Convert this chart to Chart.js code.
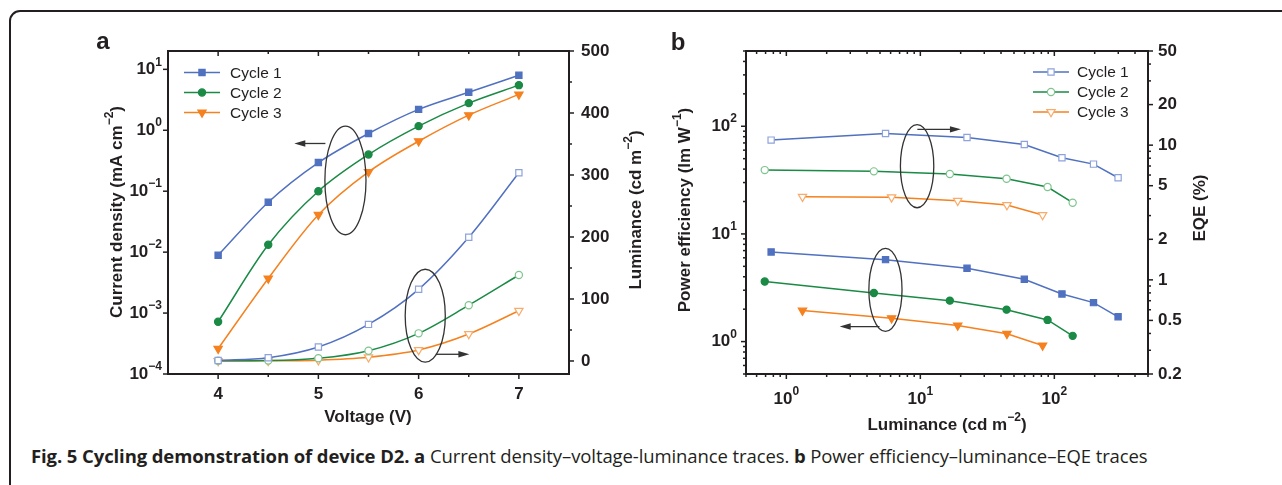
<!DOCTYPE html>
<html>
<head>
<meta charset="utf-8">
<script src="https://cdn.jsdelivr.net/npm/chart.js@4.4.1/dist/chart.umd.min.js"></script>
<style>
  body { margin: 0; background: #fff; width: 1282px; height: 485px; overflow: hidden; position: relative; }
  #frame { position: absolute; left: 9px; top: 10px; right: -30px; bottom: -30px; border: 2px solid #231f20; border-radius: 11px; }
  #ca { position: absolute; left: 0; top: 0; }
  #cb { position: absolute; left: 660px; top: 0; }
  #caption { position: absolute; left: 31px; top: 443px; font-family: "Open Sans", sans-serif; font-size: 18.5px; color: #231f20; white-space: nowrap; letter-spacing: -0.1px; }
  #caption b { font-weight: 700; }
</style>
</head>
<body>
<div id="frame"></div>
<canvas id="ca" width="660" height="440" style="width:660px;height:440px"></canvas>
<canvas id="cb" width="622" height="440" style="width:622px;height:440px"></canvas>
<div id="caption"><b>Fig. 5 Cycling demonstration of device D2. a</b> Current density–voltage-luminance traces. <b>b</b> Power efficiency–luminance–EQE traces</div>
<script>
// ---- panel a: J-V-L ----
const voltage = [4, 4.5, 5, 5.5, 6, 6.5, 7];
const jCycle1 = [0.0089, 0.066, 0.295, 0.885, 2.2, 4.2, 8.0];
const jCycle2 = [7.2e-4, 0.0132, 0.1, 0.40, 1.17, 2.79, 5.5];
const jCycle3 = [2.6e-4, 3.7e-3, 0.041, 0.207, 0.66, 1.77, 3.88];
const lumCycle1 = [0.8, 5.3, 22.6, 59, 115.6, 199.5, 303.7];
const lumCycle2 = [0.3, 0.7, 4.3, 16.6, 44.6, 90, 138.7];
const lumCycle3 = [0.1, 0.2, 1.3, 6, 17.7, 43.5, 81];

const voltTicks = [4, 5, 6, 7];
const voltMinor = [4.5, 5.5, 6.5];
const jTicks = [1e-4, 1e-3, 1e-2, 1e-1, 1, 10];
const jTickExp = ['−4', '−3', '−2', '−1', '0', '1'];
const lumTicksA = [0, 100, 200, 300, 400, 500];
const lumMinorA = [50, 150, 250, 350, 450];

// ---- panel b: PE-L-EQE ----
const pbLum1 = [0.77, 5.5, 22.3, 59.7, 114, 196, 299];
const pe1 = [6.8, 5.77, 4.8, 3.79, 2.77, 2.30, 1.70];
const eqe1 = [10.9, 12.2, 11.4, 10.1, 8.06, 7.23, 5.73];
const pbLum2 = [0.69, 4.5, 16.6, 44, 89, 137];
const pe2 = [3.61, 2.83, 2.40, 1.98, 1.59, 1.13];
const eqe2 = [6.53, 6.39, 6.1, 5.63, 4.89, 3.74];
const pbLum3 = [1.32, 6.1, 19, 44.3, 81.7];
const pe3 = [1.94, 1.65, 1.41, 1.18, 0.92];
const eqe3 = [4.14, 4.1, 3.87, 3.59, 3.03];

const decadeTicks = [1, 10, 100];
const decadeExp = ['0', '1', '2'];
const eqeTicks = [0.2, 0.5, 1, 2, 5, 10, 20, 50];
const eqeMinor = [0.3, 0.4, 0.6, 0.7, 0.8, 0.9, 3, 4, 6, 7, 8, 9, 30, 40];

const ink = '#231f20';
const blue = '#5070c0', green = '#1a8a45', orange = '#f5811f';
const blueL = '#8ea3dc', greenL = '#7fc48e', orangeL = '#f8ab6a';
const FONT = '"Liberation Sans", Arial, sans-serif';
const TICK = 17, TITLE = 17;

function logMinor(lo, hi) {
  const out = [];
  for (let d = lo; d < hi; d *= 10) for (let k = 2; k <= 9; k++) out.push(d * k);
  return out;
}

function xy(xs, ys) { return xs.map((x, i) => ({ x: x, y: ys[i] })); }

function series(label, data, axis, line, fill, edge, style, r, smooth) {
  return {
    label: label, data: data, yAxisID: axis,
    borderColor: line, borderWidth: 1.5,
    pointStyle: style, pointRotation: style === 'triangle' ? 180 : 0, pointRadius: r,
    pointBackgroundColor: fill, pointBorderColor: edge, pointBorderWidth: 1.2,
    cubicInterpolationMode: smooth ? 'monotone' : 'default', tension: 0
  };
}

function drawRich(ctx, parts, x, y, align, size, weight) {
  const sup = Math.round(size * 0.68);
  let w = 0;
  parts.forEach(p => { ctx.font = weight + ' ' + (p[1] ? sup : size) + 'px ' + FONT; w += ctx.measureText(p[0]).width; });
  let cx = align === 'center' ? x - w / 2 : align === 'right' ? x - w : x;
  ctx.textAlign = 'left';
  ctx.textBaseline = 'middle';
  parts.forEach(p => {
    ctx.font = weight + ' ' + (p[1] ? sup : size) + 'px ' + FONT;
    ctx.fillText(p[0], cx, p[1] ? y - size * 0.42 : y);
    cx += ctx.measureText(p[0]).width;
  });
}

function marker(ctx, style, r, fill, edge, x, y) {
  ctx.beginPath();
  if (style === 'rect') { const h = r * Math.SQRT1_2; ctx.rect(x - h, y - h, 2 * h, 2 * h); }
  else if (style === 'circle') ctx.arc(x, y, r, 0, Math.PI * 2);
  else { ctx.moveTo(x, y + r); ctx.lineTo(x - r * 0.866, y - r / 2); ctx.lineTo(x + r * 0.866, y - r / 2); ctx.closePath(); }
  ctx.fillStyle = fill; ctx.fill();
  ctx.strokeStyle = edge; ctx.lineWidth = 1.2; ctx.stroke();
}

function drawAxis(chart, ax) {
  const ctx = chart.ctx, a = chart.chartArea, s = chart.scales[ax.scale];
  const horiz = ax.side === 'bottom' || ax.side === 'top';
  const edge = a[ax.side];
  const out = (ax.side === 'left' || ax.side === 'top') ? -1 : 1;
  const sign = ax.dir === 'in' ? -out : out;
  ctx.strokeStyle = ink;
  ctx.lineWidth = 2;
  ctx.beginPath();
  if (horiz) { ctx.moveTo(a.left - 1, edge); ctx.lineTo(a.right + 1, edge); }
  else { ctx.moveTo(edge, a.top - 1); ctx.lineTo(edge, a.bottom + 1); }
  ctx.stroke();
  ctx.lineWidth = 1.5;
  const tick = (v, len) => {
    const p = s.getPixelForValue(v);
    ctx.beginPath();
    if (horiz) { ctx.moveTo(p, edge); ctx.lineTo(p, edge + sign * len); }
    else { ctx.moveTo(edge, p); ctx.lineTo(edge + sign * len, p); }
    ctx.stroke();
  };
  (ax.minor || []).forEach(v => tick(v, 3));
  (ax.major || []).forEach(v => tick(v, 5));
  ctx.fillStyle = ink;
  (ax.labels || []).forEach((parts, i) => {
    const p = s.getPixelForValue(ax.major[i]);
    if (ax.side === 'left') drawRich(ctx, parts, edge - ax.gap, p, 'right', TICK, 'bold');
    else if (ax.side === 'right') drawRich(ctx, parts, edge + ax.gap, p, 'left', TICK, 'bold');
    else drawRich(ctx, parts, p, edge + ax.gap, 'center', TICK, 'bold');
  });
}

function decor(cfg) {
  return {
    id: 'decor',
    afterDraw(chart) {
      const ctx = chart.ctx, sc = chart.scales;
      ctx.save();
      cfg.axes.forEach(ax => drawAxis(chart, ax));
      ctx.fillStyle = ink;
      cfg.titles.forEach(t => {
        ctx.save(); ctx.translate(t.x, t.y); ctx.rotate(t.rot || 0);
        drawRich(ctx, t.parts, 0, 0, 'center', TITLE, 'bold');
        ctx.restore();
      });
      ctx.font = 'bold 24px ' + FONT; ctx.textAlign = 'center'; ctx.textBaseline = 'middle';
      ctx.fillText(cfg.letter.t, cfg.letter.x, cfg.letter.y);
      // legend
      const L = cfg.legend;
      L.items.forEach((idx, k) => {
        const ds = chart.data.datasets[idx], y = L.ys[k];
        ctx.strokeStyle = ds.borderColor; ctx.lineWidth = 1.5;
        ctx.beginPath(); ctx.moveTo(L.x0, y); ctx.lineTo(L.x1, y); ctx.stroke();
        marker(ctx, ds.pointStyle, ds.pointRadius, ds.pointBackgroundColor, ds.pointBorderColor, (L.x0 + L.x1) / 2, y);
        ctx.fillStyle = ink; ctx.font = '15.5px ' + FONT; ctx.textAlign = 'left'; ctx.textBaseline = 'middle';
        ctx.fillText(ds.label, L.tx, y + 1);
      });
      // ellipses and arrows, placed in data units
      ctx.strokeStyle = '#333'; ctx.fillStyle = '#333'; ctx.lineWidth = 1.3;
      cfg.notes.forEach(n => {
        const sx = sc[n.xs], sy = sc[n.ys];
        if (n.kind === 'ellipse') {
          const x0 = sx.getPixelForValue(n.x0), x1 = sx.getPixelForValue(n.x1);
          const y0 = sy.getPixelForValue(n.y0), y1 = sy.getPixelForValue(n.y1);
          ctx.beginPath();
          ctx.ellipse((x0 + x1) / 2, (y0 + y1) / 2, Math.abs(x1 - x0) / 2, Math.abs(y1 - y0) / 2, 0, 0, Math.PI * 2);
          ctx.stroke();
        } else {
          const x0 = sx.getPixelForValue(n.x0), x1 = sx.getPixelForValue(n.x1), y = sy.getPixelForValue(n.y);
          const d = Math.sign(x1 - x0);
          ctx.beginPath(); ctx.moveTo(x0, y); ctx.lineTo(x1 - d * 8, y); ctx.stroke();
          ctx.beginPath(); ctx.moveTo(x1, y); ctx.lineTo(x1 - d * 11, y - 3.2); ctx.lineTo(x1 - d * 11, y + 3.2); ctx.closePath(); ctx.fill();
        }
      });
      ctx.restore();
    }
  };
}

const pow = exps => exps.map(e => [['10', 0], [e, 1]]);
const plain = vals => vals.map(v => [[String(v), 0]]);
const lumMinorB = logMinor(0.1, 1000).filter(v => v >= 0.5 && v <= 500);

new Chart(document.getElementById('ca'), {
  type: 'line',
  data: {
    datasets: [
      series('Cycle 1', xy(voltage, jCycle1), 'y', blue, blue, blue, 'rect', 4.4, true),
      series('Cycle 2', xy(voltage, jCycle2), 'y', green, green, green, 'circle', 3.6, true),
      series('Cycle 3', xy(voltage, jCycle3), 'y', orange, orange, orange, 'triangle', 4.8, true),
      series('Cycle 1', xy(voltage, lumCycle1), 'y2', blue, '#fff', blueL, 'rect', 4.4, true),
      series('Cycle 2', xy(voltage, lumCycle2), 'y2', green, '#fff', greenL, 'circle', 3.6, true),
      series('Cycle 3', xy(voltage, lumCycle3), 'y2', orange, '#fff', orangeL, 'triangle', 4.8, true)
    ]
  },
  options: {
    responsive: false, animation: false,
    layout: { padding: { left: 168, right: 91, top: 51, bottom: 66 } },
    scales: {
      x: { type: 'linear', min: 3.5, max: 7.5, display: false },
      y: { type: 'logarithmic', min: 1e-4, max: 20, display: false },
      y2: { type: 'linear', min: -21, max: 500, display: false }
    },
    plugins: { legend: { display: false }, tooltip: { enabled: false } }
  },
  plugins: [decor({
    axes: [
      { scale: 'x', side: 'bottom', dir: 'out', major: voltTicks, minor: voltMinor, labels: plain(voltTicks), gap: 20 },
      { scale: 'x', side: 'top', dir: 'in', major: voltTicks, minor: voltMinor },
      { scale: 'y', side: 'left', dir: 'out', major: jTicks, labels: pow(jTickExp), gap: 6 },
      { scale: 'y2', side: 'right', dir: 'out', major: lumTicksA, minor: lumMinorA, labels: plain(lumTicksA), gap: 12 }
    ],
    titles: [
      { x: 117, y: 212, rot: -Math.PI / 2, parts: [['Current density (mA cm', 0], ['−2', 1], [')', 0]] },
      { x: 636, y: 210, rot: -Math.PI / 2, parts: [['Luminance (cd m', 0], ['−2', 1], [')', 0]] },
      { x: 368, y: 417, parts: [['Voltage (V)', 0]] }
    ],
    letter: { t: 'a', x: 103, y: 42 },
    legend: { items: [0, 1, 2], x0: 184, x1: 220, tx: 230, ys: [72.5, 92.5, 112.5] },
    notes: [
      { kind: 'ellipse', xs: 'x', ys: 'y', x0: 5.065, x1: 5.475, y0: 0.0193, y1: 1.17 },
      { kind: 'arrow', xs: 'x', ys: 'y', x0: 5.07, x1: 4.76, y: 0.607 },
      { kind: 'ellipse', xs: 'x', ys: 'y2', x0: 5.866, x1: 6.266, y0: -2, y1: 148 },
      { kind: 'arrow', xs: 'x', ys: 'y2', x0: 6.17, x1: 6.506, y: 10.8 }
    ]
  })]
});

new Chart(document.getElementById('cb'), {
  type: 'line',
  data: {
    datasets: [
      series('Cycle 1', xy(pbLum1, pe1), 'y', blue, blue, blue, 'rect', 4.4, false),
      series('Cycle 2', xy(pbLum2, pe2), 'y', green, green, green, 'circle', 3.6, false),
      series('Cycle 3', xy(pbLum3, pe3), 'y', orange, orange, orange, 'triangle', 4.8, false),
      series('Cycle 1', xy(pbLum1, eqe1), 'y2', blue, '#fff', blueL, 'rect', 4.4, false),
      series('Cycle 2', xy(pbLum2, eqe2), 'y2', green, '#fff', greenL, 'circle', 3.6, false),
      series('Cycle 3', xy(pbLum3, eqe3), 'y2', orange, '#fff', orangeL, 'triangle', 4.8, false)
    ]
  },
  options: {
    responsive: false, animation: false,
    layout: { padding: { left: 86, right: 134, top: 51, bottom: 66 } },
    scales: {
      x: { type: 'logarithmic', min: 0.5, max: 500, display: false },
      y: { type: 'logarithmic', min: 0.5, max: 500, display: false },
      y2: { type: 'logarithmic', min: 0.2, max: 50, display: false }
    },
    plugins: { legend: { display: false }, tooltip: { enabled: false } }
  },
  plugins: [decor({
    axes: [
      { scale: 'x', side: 'bottom', dir: 'out', major: decadeTicks, minor: lumMinorB, labels: pow(decadeExp), gap: 25 },
      { scale: 'x', side: 'top', dir: 'in', major: decadeTicks, minor: lumMinorB },
      { scale: 'y', side: 'left', dir: 'out', major: decadeTicks, minor: lumMinorB, labels: pow(decadeExp), gap: 9 },
      { scale: 'y2', side: 'right', dir: 'out', major: eqeTicks, minor: eqeMinor, labels: plain(eqeTicks), gap: 10 }
    ],
    titles: [
      { x: 25, y: 210, rot: -Math.PI / 2, parts: [['Power efficiency (lm W', 0], ['−1', 1], [')', 0]] },
      { x: 540, y: 208, rot: -Math.PI / 2, parts: [['EQE (%)', 0]] },
      { x: 287, y: 425, parts: [['Luminance (cd m', 0], ['−2', 1], [')', 0]] }
    ],
    letter: { t: 'b', x: 18, y: 43 },
    legend: { items: [3, 4, 5], x0: 373, x1: 409, tx: 417, ys: [72, 92, 112] },
    notes: [
      { kind: 'ellipse', xs: 'x', ys: 'y2', x0: 7.1, x1: 12.6, y0: 3.43, y1: 14.2 },
      { kind: 'arrow', xs: 'x', ys: 'y2', x0: 9.5, x1: 20.1, y: 13.1 },
      { kind: 'ellipse', xs: 'x', ys: 'y', x0: 4.13, x1: 7.3, y0: 1.246, y1: 7.35 },
      { kind: 'arrow', xs: 'x', ys: 'y', x0: 4.96, x1: 2.5, y: 1.38 }
    ]
  })]
});
</script>
</body>
</html>
